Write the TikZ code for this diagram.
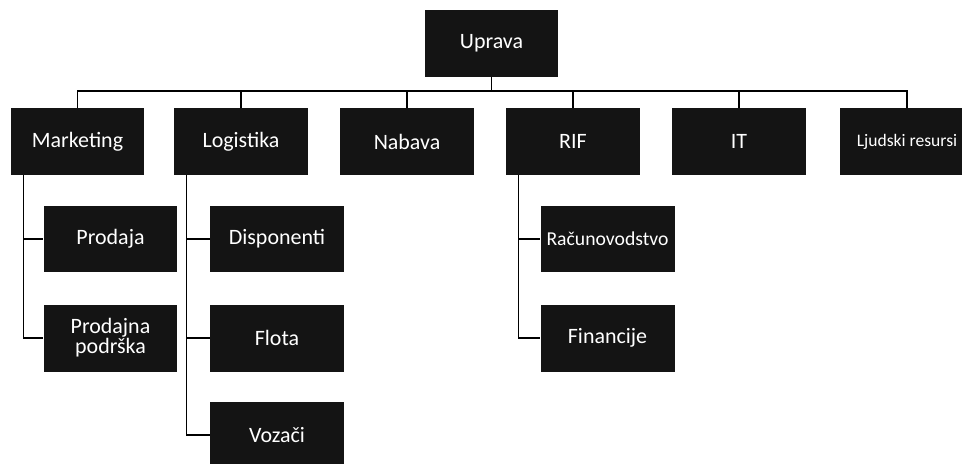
\documentclass[tikz,border=0pt]{standalone}
\usepackage{fontspec}
\setmainfont{Carlito}
\begin{document}
\begin{tikzpicture}[x=0.02cm, y=-0.02cm,
    unit/.style={fill=black!92, text=white, minimum width=2.68cm, minimum height=1.34cm,
        inner sep=1pt, align=center, font=\fontsize{12.5}{11.5}\selectfont},
    link/.style={line width=0.6pt}]
    \clip (0,0) rectangle (962,463);
    % top of the chart
    \node[unit] (uprava) at (491.5,43.5) {Uprava};
    \node[unit] (marketing) at (77.5,141.5) {Marketing};
    \node[unit] (logistika) at (241,141.5) {Logistika};
    \node[unit] (nabava) at (407,141.5) {Nabava};
    \node[unit] (rif) at (573,141.5) {RIF};
    \node[unit] (it) at (739,141.5) {IT};
    \node[unit, font=\fontsize{10}{11}\selectfont] (ljudski) at (907,141.5) {Ljudski resursi};
    \coordinate (bus) at (491.5,91);
    \draw[link] (uprava.south) -- (bus);
    \foreach \n in {marketing,logistika,nabava,rif,it,ljudski}
        \draw[link] (bus) -| (\n.north);
    % second level
    \node[unit] (prodaja) at (110.5,239) {Prodaja};
    \node[unit] (podrska) at (110.5,338) {Prodajna\\podrška};
    \node[unit] (disponenti) at (277,239) {Disponenti};
    \node[unit] (flota) at (277,338) {Flota};
    \node[unit] (vozaci) at (277,435) {Vozači};
    \node[unit, font=\fontsize{11.2}{12}\selectfont] (racunovodstvo) at (607.5,239) {Računovodstvo};
    \node[unit] (financije) at (607.5,338) {Financije};
    \foreach \p/\c in {marketing/prodaja,marketing/podrska,logistika/disponenti,
        logistika/flota,logistika/vozaci,rif/racunovodstvo,rif/financije}
        \draw[link] ([xshift=0.26cm]\p.south west) |- (\c.west);
\end{tikzpicture}
\end{document}
